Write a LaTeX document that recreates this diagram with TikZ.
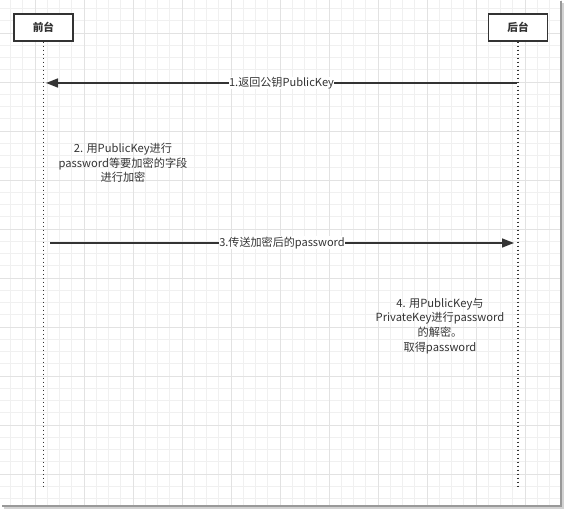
\documentclass[tikz,border=0pt]{standalone}
\usepackage{fontspec}
\newfontfamily\cjk{Noto Sans CJK SC}
\usetikzlibrary{arrows.meta, positioning}
\definecolor{seqdark}{RGB}{51, 51, 51}
\definecolor{seqgrid}{RGB}{240, 240, 240}
\definecolor{seqmajor}{RGB}{226, 226, 226}
\tikzset{
  actor/.style={draw=seqdark, line width=1.1pt, fill=white, minimum width=44.25pt, minimum height=20.25pt, font=\cjk\fontsize{8}{10}\selectfont\bfseries, text=seqdark},
  lifeline/.style={seqdark, line width=1.2pt, dash pattern=on 1.2pt off 1.8pt},
  msg/.style={-{Triangle[length=9pt, width=6.75pt]}, line width=1.1pt, seqdark},
  msglabel/.style={fill=white, inner sep=0.4pt, font=\cjk\fontsize{8.3}{10}\selectfont, text=seqdark},
  note/.style={align=center, font=\cjk\fontsize{8.4}{11}\selectfont, text=seqdark}
}
\begin{document}
\begin{tikzpicture}[x=0.75pt, y=-0.75pt]
  \useasboundingbox (0,0) rectangle (565,509);
  % grid background
  \foreach \i in {0,...,45} {
    \draw[seqgrid, line width=0.6pt] ({10.5+12.25*\i},0) -- ({10.5+12.25*\i},506);
  }
  \foreach \i in {0,...,40} {
    \draw[seqgrid, line width=0.6pt] (0,{8.5+12.25*\i}) -- (561,{8.5+12.25*\i});
  }
  \foreach \i in {0,...,10} {
    \draw[seqmajor, line width=0.7pt] ({35+49*\i},0) -- ({35+49*\i},506);
  }
  \foreach \i in {0,...,9} {
    \draw[seqmajor, line width=0.7pt] (0,{33+49*\i}) -- (561,{33+49*\i});
  }
  % frame shadow
  \draw[gray!35, line width=1.5pt] (4,508) -- (563,508) -- (563,3);
  \draw[gray!80, line width=1.1pt] (2,506) -- (561,506) -- (561,1);

  % actors and lifelines
  \node[actor] (front) at (43.5,27.5) {前台};
  \node[actor] (back) at (518,27.5) {后台};
  \coordinate (front-end) at (43.5,489);
  \coordinate (back-end) at (518,489);
  \draw[lifeline] (front.south) -- (front-end);
  \draw[lifeline] (back.south) -- (back-end);

  % messages
  \coordinate (m1-from) at (517,83);
  \coordinate (m1-to) at (46,83);
  \coordinate (m3-from) at (50,243);
  \coordinate (m3-to) at (514,243);
  \draw[msg] (m1-from) -- node[msglabel] (m1) {1.返回公钥PublicKey} (m1-to);
  \draw[msg] (m3-from) -- node[msglabel] (m3) {3.传送加密后的password} (m3-to);

  % notes
  \node[note] (step2) at (123,163) {2. 用PublicKey进行\\password等要加密的字段\\进行加密};
  \node[note] (step4) at (440,326) {4. 用PublicKey与\\PrivateKey进行password\\的解密。\\取得password};
\end{tikzpicture}
\end{document}
